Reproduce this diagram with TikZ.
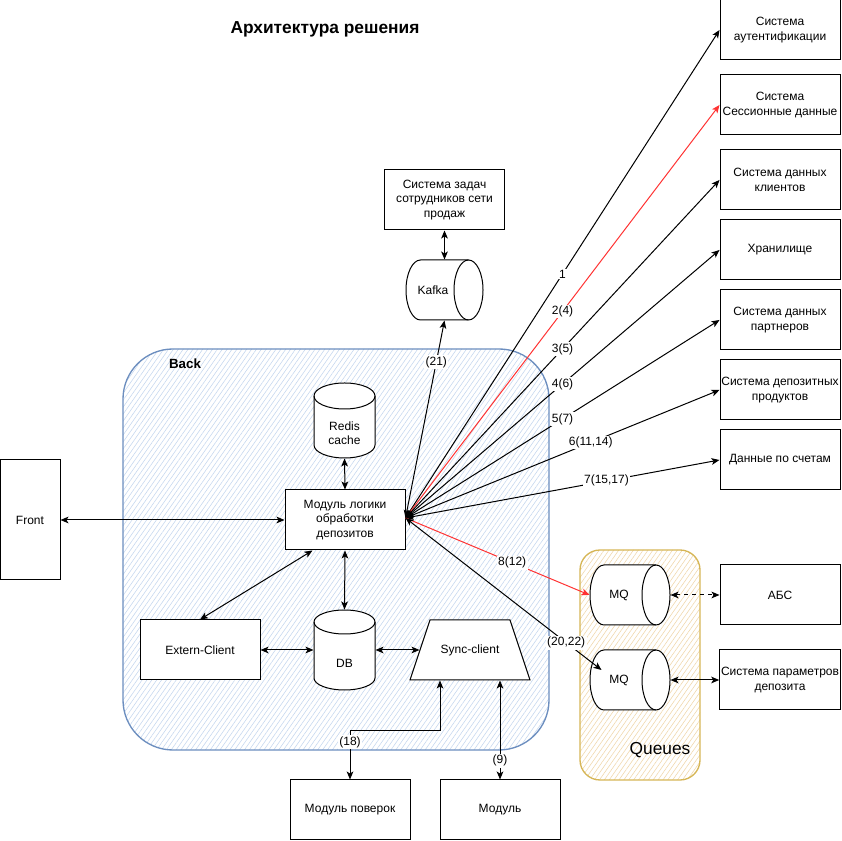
\documentclass[tikz,border=0pt]{standalone}
\usepackage{fontspec}
\setmainfont{Liberation Sans}
\usetikzlibrary{arrows.meta,patterns.meta,calc}
\definecolor{backline}{HTML}{6C8EBF}
\definecolor{backhatch}{HTML}{C3D6EF}
\definecolor{qline}{HTML}{D6B656}
\definecolor{qhatch}{HTML}{F0D6A8}
\definecolor{redc}{HTML}{FF3333}
\begin{document}
\begin{tikzpicture}[x=0.75pt,y=0.75pt,line width=0.75pt,
  >={Stealth[length=6pt,width=5pt,inset=1.5pt]},
  font=\fontsize{9}{10.7}\selectfont,
  box/.style={draw,fill=white,minimum width=90pt,minimum height=45pt,align=center,inner sep=1pt},
  shp/.style={rectangle,inner sep=0pt,draw=none},
  cyl/.style={draw,fill=white},
  lbl/.style={fill=white,inner sep=1pt,text=black}]
\useasboundingbox (0,0) rectangle (841,841);

% containers
\draw[backline,line width=1pt,rounded corners=37.5pt,preaction={fill=white},
  pattern={Lines[angle=55,distance=3pt,line width=0.4pt]},pattern color=backhatch]
  (123,91) rectangle (549,492);
\draw[qline,line width=1pt,rounded corners=15pt,preaction={fill=white},
  pattern={Lines[angle=55,distance=3pt,line width=0.4pt]},pattern color=qhatch]
  (580,61) rectangle (700,291);

\node[font=\bfseries\fontsize{13}{15}\selectfont] (title) at (325,812) {Архитектура решения};
\node[font=\bfseries] (backlbl) at (185,477) {Back};
\node[font=\fontsize{13}{15}\selectfont] (qlbl) at (660,91) {Queues};

% right boxes
\node[box] (b1) at (780,811) {Система\\аутентификации};
\node[box] (b2) at (780,736) {Система\\Сессионные данные};
\node[box] (b3) at (780,661) {Система данных\\клиентов};
\node[box] (b4) at (780,591) {Хранилище};
\node[box] (b5) at (780,521) {Система данных\\партнеров};
\node[box] (b6) at (780,451) {Система депозитных\\продуктов};
\node[box] (b7) at (780,381) {Данные по счетам};
\node[box] (abs) at (780,246) {АБС};
\node[box] (params) at (780,161) {Система параметров\\депозита};

\node[box] (zad) at (444.5,641) {Система задач\\сотрудников сети\\продаж};
\node[box] (module) at (345,321) {Модуль логики\\обработки\\депозитов};
\node[box,minimum width=45pt,minimum height=90pt] (front) at (30,321) {Front};
\node[box] (extern) at (200,191) {Extern-Client};
\node[box] (pov) at (350,31) {Модуль поверок};
\node[box] (modul) at (500,31) {Модуль};

% Sync-client trapezoid
\node[shp,minimum width=90pt,minimum height=45pt] (sync) at (470,191) {};
\draw[cyl] (430,221) -- (510,221) -- (530,161) -- (410,161) -- cycle;
\node (synctxt) at (470,191) {Sync-client};

% Kafka
\node[shp,minimum width=57.75pt,minimum height=45pt] (kafka) at (444.5,551) {};
\draw[cyl] (420.5,581) -- (468.5,581) arc[start angle=90,end angle=-90,x radius=14.5,y radius=30]
  -- (420.5,521) arc[start angle=270,end angle=90,x radius=14.5,y radius=30] -- cycle;
\draw (468.5,581) arc[start angle=90,end angle=270,x radius=14.5,y radius=30];
\node (kafkatxt) at (433,551) {Kafka};

% MQ1
\node[shp,minimum width=60pt,minimum height=45pt] (mq1) at (630,246) {};
\draw[cyl] (604,276) -- (656,276) arc[start angle=90,end angle=-90,x radius=14,y radius=30]
  -- (604,216) arc[start angle=270,end angle=90,x radius=14,y radius=30] -- cycle;
\draw (656,276) arc[start angle=90,end angle=270,x radius=14,y radius=30];
\node (mq1txt) at (619,246) {MQ};

% MQ2
\node[shp,minimum width=60pt,minimum height=45pt] (mq2) at (630,161) {};
\draw[cyl] (604,191) -- (656,191) arc[start angle=90,end angle=-90,x radius=14,y radius=30]
  -- (604,131) arc[start angle=270,end angle=90,x radius=14,y radius=30] -- cycle;
\draw (656,191) arc[start angle=90,end angle=270,x radius=14,y radius=30];
\node (mq2txt) at (619,161) {MQ};

% Redis
\node[shp,minimum width=45.75pt,minimum height=56.25pt] (redis) at (344.5,420.5) {};
\draw[cyl] (314,445) -- (314,396) arc[start angle=180,end angle=360,x radius=30.5,y radius=13]
  -- (375,445) arc[start angle=0,end angle=180,x radius=30.5,y radius=13] -- cycle;
\draw (314,445) arc[start angle=180,end angle=360,x radius=30.5,y radius=13];
\node[align=center] (redistxt) at (344.5,408) {Redis\\cache};

% DB
\node[shp,minimum width=45.75pt,minimum height=60pt] (db) at (344.5,191) {};
\draw[cyl] (314,219) -- (314,163) arc[start angle=180,end angle=360,x radius=30.5,y radius=12]
  -- (375,219) arc[start angle=0,end angle=180,x radius=30.5,y radius=12] -- cycle;
\draw (314,219) arc[start angle=180,end angle=360,x radius=30.5,y radius=12];
\node (dbtxt) at (344.5,178) {DB};

% connectors
\coordinate (hub) at ($(module.east)+(0,2)$);
\draw[<->] (zad.south) -- (kafka.north);
\draw[<->] (redis.south) -- (module.north);
\draw[<->] (front.east) -- (module.west);
\draw[<->] ($(module.south west)+(28,0)$) -- (extern.north);
\draw[<->] (module.south) -- (db.north);
\draw[<->] (extern.east) -- (db.west);
\draw[<->] (db.east) -- ($(sync.west)+(10,0)$);
\draw[<->] ($(sync.south)+(-30,0)$) -- ++(0,-50) -| node[lbl,pos=0.62]{(18)} (pov.north);
\draw[<->] ($(sync.south)+(30,0)$) -- node[lbl,pos=0.81]{(9)} (modul.north);

\draw[<->] (hub) -- node[lbl]{1} (b1.west);
\draw[->,redc] (hub) -- node[lbl]{2(4)} (b2.west);
\draw[<->] (hub) -- node[lbl]{3(5)} (b3.west);
\draw[<->] (hub) -- node[lbl]{4(6)} (b4.west);
\draw[<->] (hub) -- node[lbl]{5(7)} (b5.west);
\draw[<->] (hub) -- node[lbl,pos=0.59]{6(11,14)} (b6.west);
\draw[<->] (hub) -- node[lbl,pos=0.64]{7(15,17)} (b7.west);
\draw[->,redc] (hub) -- node[lbl,pos=0.58]{8(12)} (mq1.west);
\draw[<->] (hub) -- node[lbl,pos=0.82]{(20,22)} ($(mq2.west)+(12,10)$);
\draw[<->] (hub) -- node[lbl,pos=0.79]{(21)} (kafka.south);
\draw[<->,dashed] (mq1.east) -- (abs.west);
\draw[<->] (mq2.east) -- (params.west);
\end{tikzpicture}
\end{document}
